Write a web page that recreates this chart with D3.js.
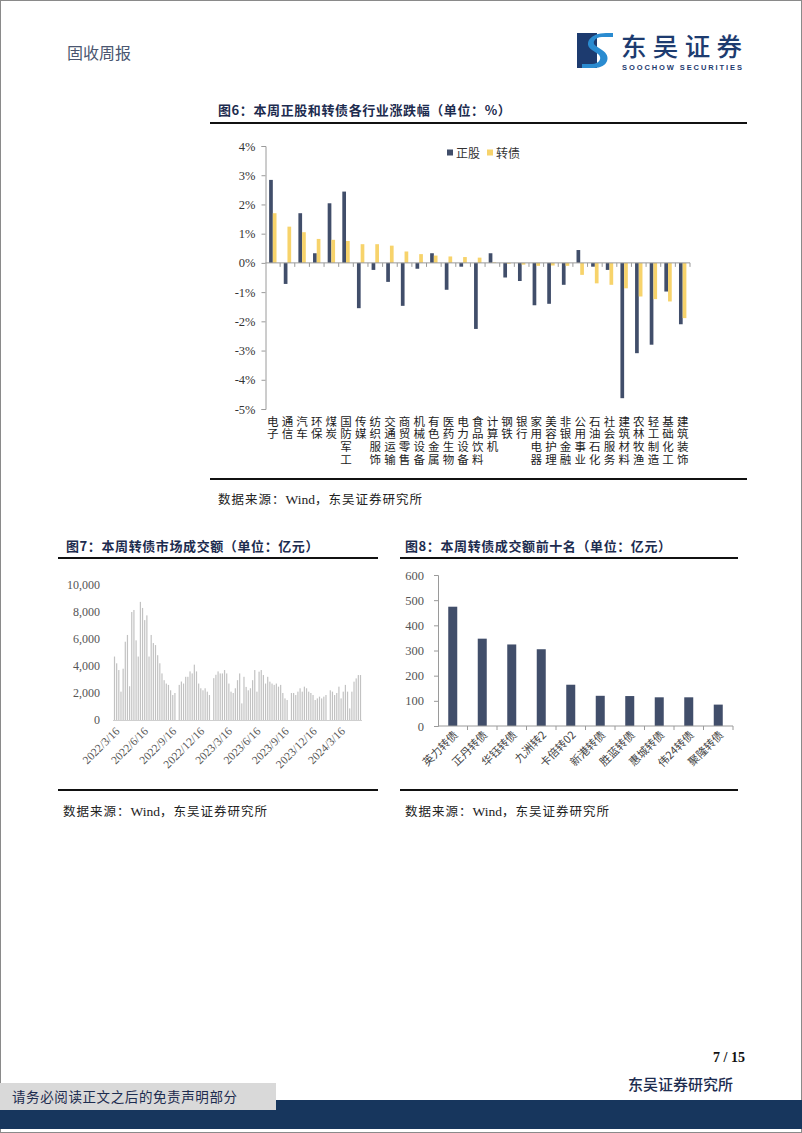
<!DOCTYPE html>
<html><head><meta charset="utf-8">
<script src="https://cdn.jsdelivr.net/npm/d3@7"></script>
<style>
html,body{margin:0;padding:0;background:#fff;}
svg{display:block;}
</style></head>
<body>
<svg id="page" width="802" height="1133"></svg>
<script>
// ---------- DATA ----------
const industries = ["电子","通信","汽车","环保","煤炭","国防军工","传媒","纺织服饰","交通运输","商贸零售","机械设备","有色金属","医药生物","电力设备","食品饮料","计算机","钢铁","银行","家用电器","美容护理","非银金融","公用事业","石油石化","社会服务","建筑材料","农林牧渔","轻工制造","基础化工","建筑装饰"];
const stockChg = [2.84,-0.72,1.70,0.33,2.04,2.44,-1.55,-0.24,-0.65,-1.47,-0.20,0.33,-0.92,-0.13,-2.26,0.33,-0.50,-0.62,-1.45,-1.40,-0.75,0.44,-0.13,-0.24,-4.63,-3.09,-2.80,-0.98,-2.10];
const cbChg = [1.70,1.24,1.05,0.82,0.79,0.75,0.64,0.64,0.59,0.39,0.30,0.25,0.22,0.20,0.18,0.02,-0.03,-0.06,-0.10,-0.09,-0.10,-0.41,-0.70,-0.75,-0.87,-1.15,-1.24,-1.32,-1.89];
const seriesNames = ["正股","转债"];
const pctTicks = [-5,-4,-3,-2,-1,0,1,2,3,4];

const weekStart = "2022-03-16";
const weeklyTurnover = [
4700,4200,3700,2100,3800,5800,6300,2500,8000,8150,
5900,4700,8750,8300,7400,7750,4700,6300,5700,5550,
4800,4200,3450,2950,2700,2600,2200,1850,2000,0,
2600,2850,2700,3200,3200,3600,3450,4100,3600,2700,
2350,2200,2350,2100,1850,0,3100,3350,3600,3450,
3450,3700,3450,2700,2100,2000,
2350,2950,3450,1230,3200,2450,2200,2350,2950,3700,
2100,3580,3700,3330,2700,3200,2840,2700,2600,
2700,2470,2600,2000,1600,1480,0,2000,2000,
1850,2100,2350,2100,2470,2350,2100,2000,1850,
1480,1600,1730,1600,1730,1850,0,2200,2100,
1850,2000,2470,1600,2100,2600,2100,860,2100,2840,
3080,3330,3330];
const turnoverTicks = [0,2000,4000,6000,8000,10000];
const dateTickLabels = ["2022/3/16","2022/6/16","2022/9/16","2022/12/16","2023/3/16","2023/6/16","2023/9/16","2023/12/16","2024/3/16"];

const topBonds = ["英力转债","正丹转债","华钰转债","九洲转2","卡倍转02","新港转债","胜蓝转债","惠城转债","伟24转债","聚隆转债"];
const topAmounts = [474,347,324,305,164,120,119,114,114,85];
const amountTicks = [0,100,200,300,400,500,600];

// ---------- STYLE ----------
const CJK = "'Noto Sans CJK SC', 'Noto Sans', sans-serif";
const SERIF = "'Liberation Serif', 'DejaVu Serif', serif";
const NAVY = "#414e6a", YELLOW = "#f7d36b", TITLE = "#1d2c4f";

const svg = d3.select("#page");
svg.append("rect").attr("x",0.5).attr("y",0.5).attr("width",801).attr("height",1132)
   .attr("fill","#fff").attr("stroke","#8a8a8a");

// ---------- HEADER ----------
svg.append("text").attr("x",67).attr("y",59).text("固收周报")
   .attr("font-family",CJK).attr("font-size",16).attr("fill","#4a5670");
const logo = svg.append("g");
logo.append("rect").attr("x",577).attr("y",33).attr("width",20).attr("height",35).attr("fill","#1d3b6f");
logo.append("path").attr("d","M606,33 C590,33 583,44 592,50 L598,54 C603,58 599,64 592,64 L582,64 L582,68 L594,68 C608,68 612,56 602,50 L596,46 C591,43 595,37 602,37 L613,37 L613,33 Z")
   .attr("fill","#2a8bd0");
logo.append("text").attr("x",621).attr("y",56).text("东吴证券")
   .attr("font-family",CJK).attr("font-size",25.5).attr("font-weight",500).attr("fill","#1d3b6f")
   .attr("textLength",121);
logo.append("text").attr("x",622).attr("y",70).text("SOOCHOW SECURITIES")
   .attr("font-family","'Liberation Sans', Arial, sans-serif").attr("font-size",7.5).attr("font-weight","bold")
   .attr("fill","#1d3b6f").attr("textLength",120);

// helpers
function title(x,y,t,ls){
  svg.append("text").attr("x",x).attr("y",y).text(t).attr("letter-spacing",ls)
     .attr("font-family",CJK).attr("font-size",13).attr("font-weight","bold").attr("fill",TITLE);
}
function rule(x1,x2,y,w){
  svg.append("line").attr("x1",x1).attr("x2",x2).attr("y1",y).attr("y2",y)
     .attr("stroke","#111").attr("stroke-width",w);
}
function source(x,y){
  const t = svg.append("text").attr("x",x).attr("y",y).attr("letter-spacing",1)
     .attr("font-family",CJK).attr("font-size",12.5).attr("fill","#222");
  t.append("tspan").text("数据来源：");
  t.append("tspan").attr("font-family",SERIF).attr("font-size",13.5).attr("letter-spacing",0).text("Wind");
  t.append("tspan").text("，东吴证券研究所");
}

// ---------- CHART 6 ----------
title(218,115,"图6：本周正股和转债各行业涨跌幅（单位：%）",0.6);
rule(210,747,123,2);
const y6 = d3.scaleLinear().domain([-5,4]).range([409,146]);
const x6 = d3.scaleBand().domain(industries).range([265.5,690]).padding(0);
const g6 = svg.append("g");
const bw6 = 3.7;
g6.selectAll("rect.s").data(industries).join("rect")
  .attr("x",d=>x6(d)+x6.bandwidth()/2-bw6)
  .attr("width",bw6)
  .attr("y",(d,i)=>y6(Math.max(0,stockChg[i])))
  .attr("height",(d,i)=>Math.abs(y6(stockChg[i])-y6(0)))
  .attr("fill",NAVY);
g6.selectAll("rect.c").data(industries).join("rect")
  .attr("x",d=>x6(d)+x6.bandwidth()/2)
  .attr("width",bw6)
  .attr("y",(d,i)=>y6(Math.max(0,cbChg[i])))
  .attr("height",(d,i)=>Math.abs(y6(cbChg[i])-y6(0)))
  .attr("fill",YELLOW);
// y axis
const ay6 = g6.append("g").attr("transform","translate(265.5,0)")
  .call(d3.axisLeft(y6).tickValues(pctTicks).tickFormat(d=>d+"%").tickSize(4).tickPadding(6));
ay6.select(".domain").attr("stroke","#9a9a9a");
ay6.selectAll(".tick line").attr("stroke","#9a9a9a");
ay6.selectAll("text").attr("font-family",SERIF).attr("font-size",12.5).attr("fill","#333");
// x axis
g6.append("line").attr("x1",265.5).attr("x2",690).attr("y1",y6(0)).attr("y2",y6(0)).attr("stroke","#9a9a9a");
g6.selectAll("line.xt").data(industries).join("line")
  .attr("x1",d=>x6(d)+x6.bandwidth())
  .attr("x2",d=>x6(d)+x6.bandwidth())
  .attr("y1",y6(0)).attr("y2",y6(0)+4).attr("stroke","#9a9a9a");
// vertical category labels (one char per line)
g6.selectAll("text.xl").data(industries).join("text")
  .attr("x",d=>x6(d)+x6.bandwidth()/2)
  .attr("y",415.5)
  .attr("style","writing-mode: vertical-rl; text-orientation: upright;")
  .attr("letter-spacing",1.2)
  .attr("font-family",CJK).attr("font-size",11.5).attr("fill","#222")
  .text(d=>d);
// legend
const lg = g6.append("g").attr("font-family",CJK).attr("font-size",12).attr("fill","#333");
[[447,NAVY,seriesNames[0]],[487,YELLOW,seriesNames[1]]].forEach(([lx,c,t])=>{
  lg.append("rect").attr("x",lx).attr("y",149.5).attr("width",6).attr("height",6).attr("fill",c);
  lg.append("text").attr("x",lx+9).attr("y",157.5).text(t);
});
rule(210,747,479,2);
source(218,504);

// ---------- CHART 7 ----------
title(66,551,"图7：本周转债市场成交额（单位：亿元）",0.6);
rule(58,378,558,2);
const parse = d3.timeParse("%Y-%m-%d");
const d0 = parse(weekStart);
const dates7 = weeklyTurnover.map((v,i)=>d3.timeDay.offset(d0,i*7));
const x7 = d3.scaleTime().domain([dates7[0],dates7[dates7.length-1]]).range([114.5,360.5]);
const y7 = d3.scaleLinear().domain([0,10000]).range([720,585]);
const g7 = svg.append("g");
g7.selectAll("rect").data(weeklyTurnover).join("rect")
  .attr("x",(d,i)=>x7(dates7[i])-0.6).attr("width",1.2)
  .attr("y",d=>y7(d)).attr("height",d=>y7(0)-y7(d))
  .attr("fill","#c2c2c2");
g7.append("line").attr("x1",113).attr("x2",362).attr("y1",720.5).attr("y2",720.5).attr("stroke","#cfcfcf");
const ay7 = g7.append("g").attr("transform","translate(113,0)")
  .call(d3.axisLeft(y7).tickValues(turnoverTicks).tickFormat(d3.format(",")).tickSize(0).tickPadding(13));
ay7.select(".domain").remove();
ay7.selectAll("text").attr("font-family",SERIF).attr("font-size",12).attr("fill","#555");
const fmtIn = d3.timeParse("%Y/%m/%d");
g7.selectAll("text.xl").data(dateTickLabels).join("text")
  .attr("transform",d=>`translate(${x7(fmtIn(d))+3},729) rotate(-45)`)
  .attr("text-anchor","end").attr("dy","0.35em")
  .attr("font-family",SERIF).attr("font-size",11.5).attr("fill","#555").text(d=>d);
rule(58,378,790,2);
source(63,816);

// ---------- CHART 8 ----------
title(405,551,"图8：本周转债成交额前十名（单位：亿元）",0.6);
rule(400,738,558,2);
const x8 = d3.scaleBand().domain(topBonds).range([438,733]).padding(0);
const y8 = d3.scaleLinear().domain([0,600]).range([726,575]);
const g8 = svg.append("g");
g8.selectAll("rect").data(topBonds).join("rect")
  .attr("x",d=>x8(d)+x8.bandwidth()/2-4.5).attr("width",9)
  .attr("y",(d,i)=>y8(topAmounts[i])).attr("height",(d,i)=>y8(0)-y8(topAmounts[i]))
  .attr("fill",NAVY);
const ay8 = g8.append("g").attr("transform","translate(438,0)")
  .call(d3.axisLeft(y8).tickValues(amountTicks).tickSize(4).tickPadding(10));
ay8.select(".domain").attr("stroke","#9a9a9a");
ay8.selectAll(".tick line").attr("stroke","#9a9a9a");
ay8.selectAll("text").attr("font-family",SERIF).attr("font-size",12.5).attr("fill","#555");
g8.append("line").attr("x1",438).attr("x2",733).attr("y1",726).attr("y2",726).attr("stroke","#9a9a9a");
g8.selectAll("line.xt").data(topBonds).join("line")
  .attr("x1",d=>x8(d)+x8.bandwidth()).attr("x2",d=>x8(d)+x8.bandwidth())
  .attr("y1",726).attr("y2",730).attr("stroke","#9a9a9a");
g8.selectAll("text.xl").data(topBonds).join("text")
  .attr("transform",d=>`translate(${x8(d)+x8.bandwidth()/2+3},733) rotate(-45)`)
  .attr("text-anchor","end").attr("dy","0.35em")
  .attr("font-family",CJK).attr("font-size",11).attr("fill","#444").text(d=>d);
rule(400,738,790,2);
source(405,816);

// ---------- FOOTER ----------
svg.append("text").attr("x",745).attr("y",1062).attr("text-anchor","end").text("7 / 15")
   .attr("font-family",SERIF).attr("font-size",14).attr("font-weight","bold").attr("fill","#111");
svg.append("text").attr("x",733).attr("y",1090).attr("text-anchor","end").text("东吴证券研究所")
   .attr("font-family",CJK).attr("font-size",15).attr("font-weight",500).attr("fill","#1d2c4f");
svg.append("rect").attr("x",0).attr("y",1100).attr("width",802).attr("height",29).attr("fill","#17365d");
svg.append("rect").attr("x",0).attr("y",1083).attr("width",276).attr("height",27).attr("fill","#d9d9d9");
svg.append("text").attr("x",12).attr("y",1102).text("请务必阅读正文之后的免责声明部分").attr("letter-spacing",0.6)
   .attr("font-family",CJK).attr("font-size",13.5).attr("fill","#1d2c4f");
</script>
</body></html>
